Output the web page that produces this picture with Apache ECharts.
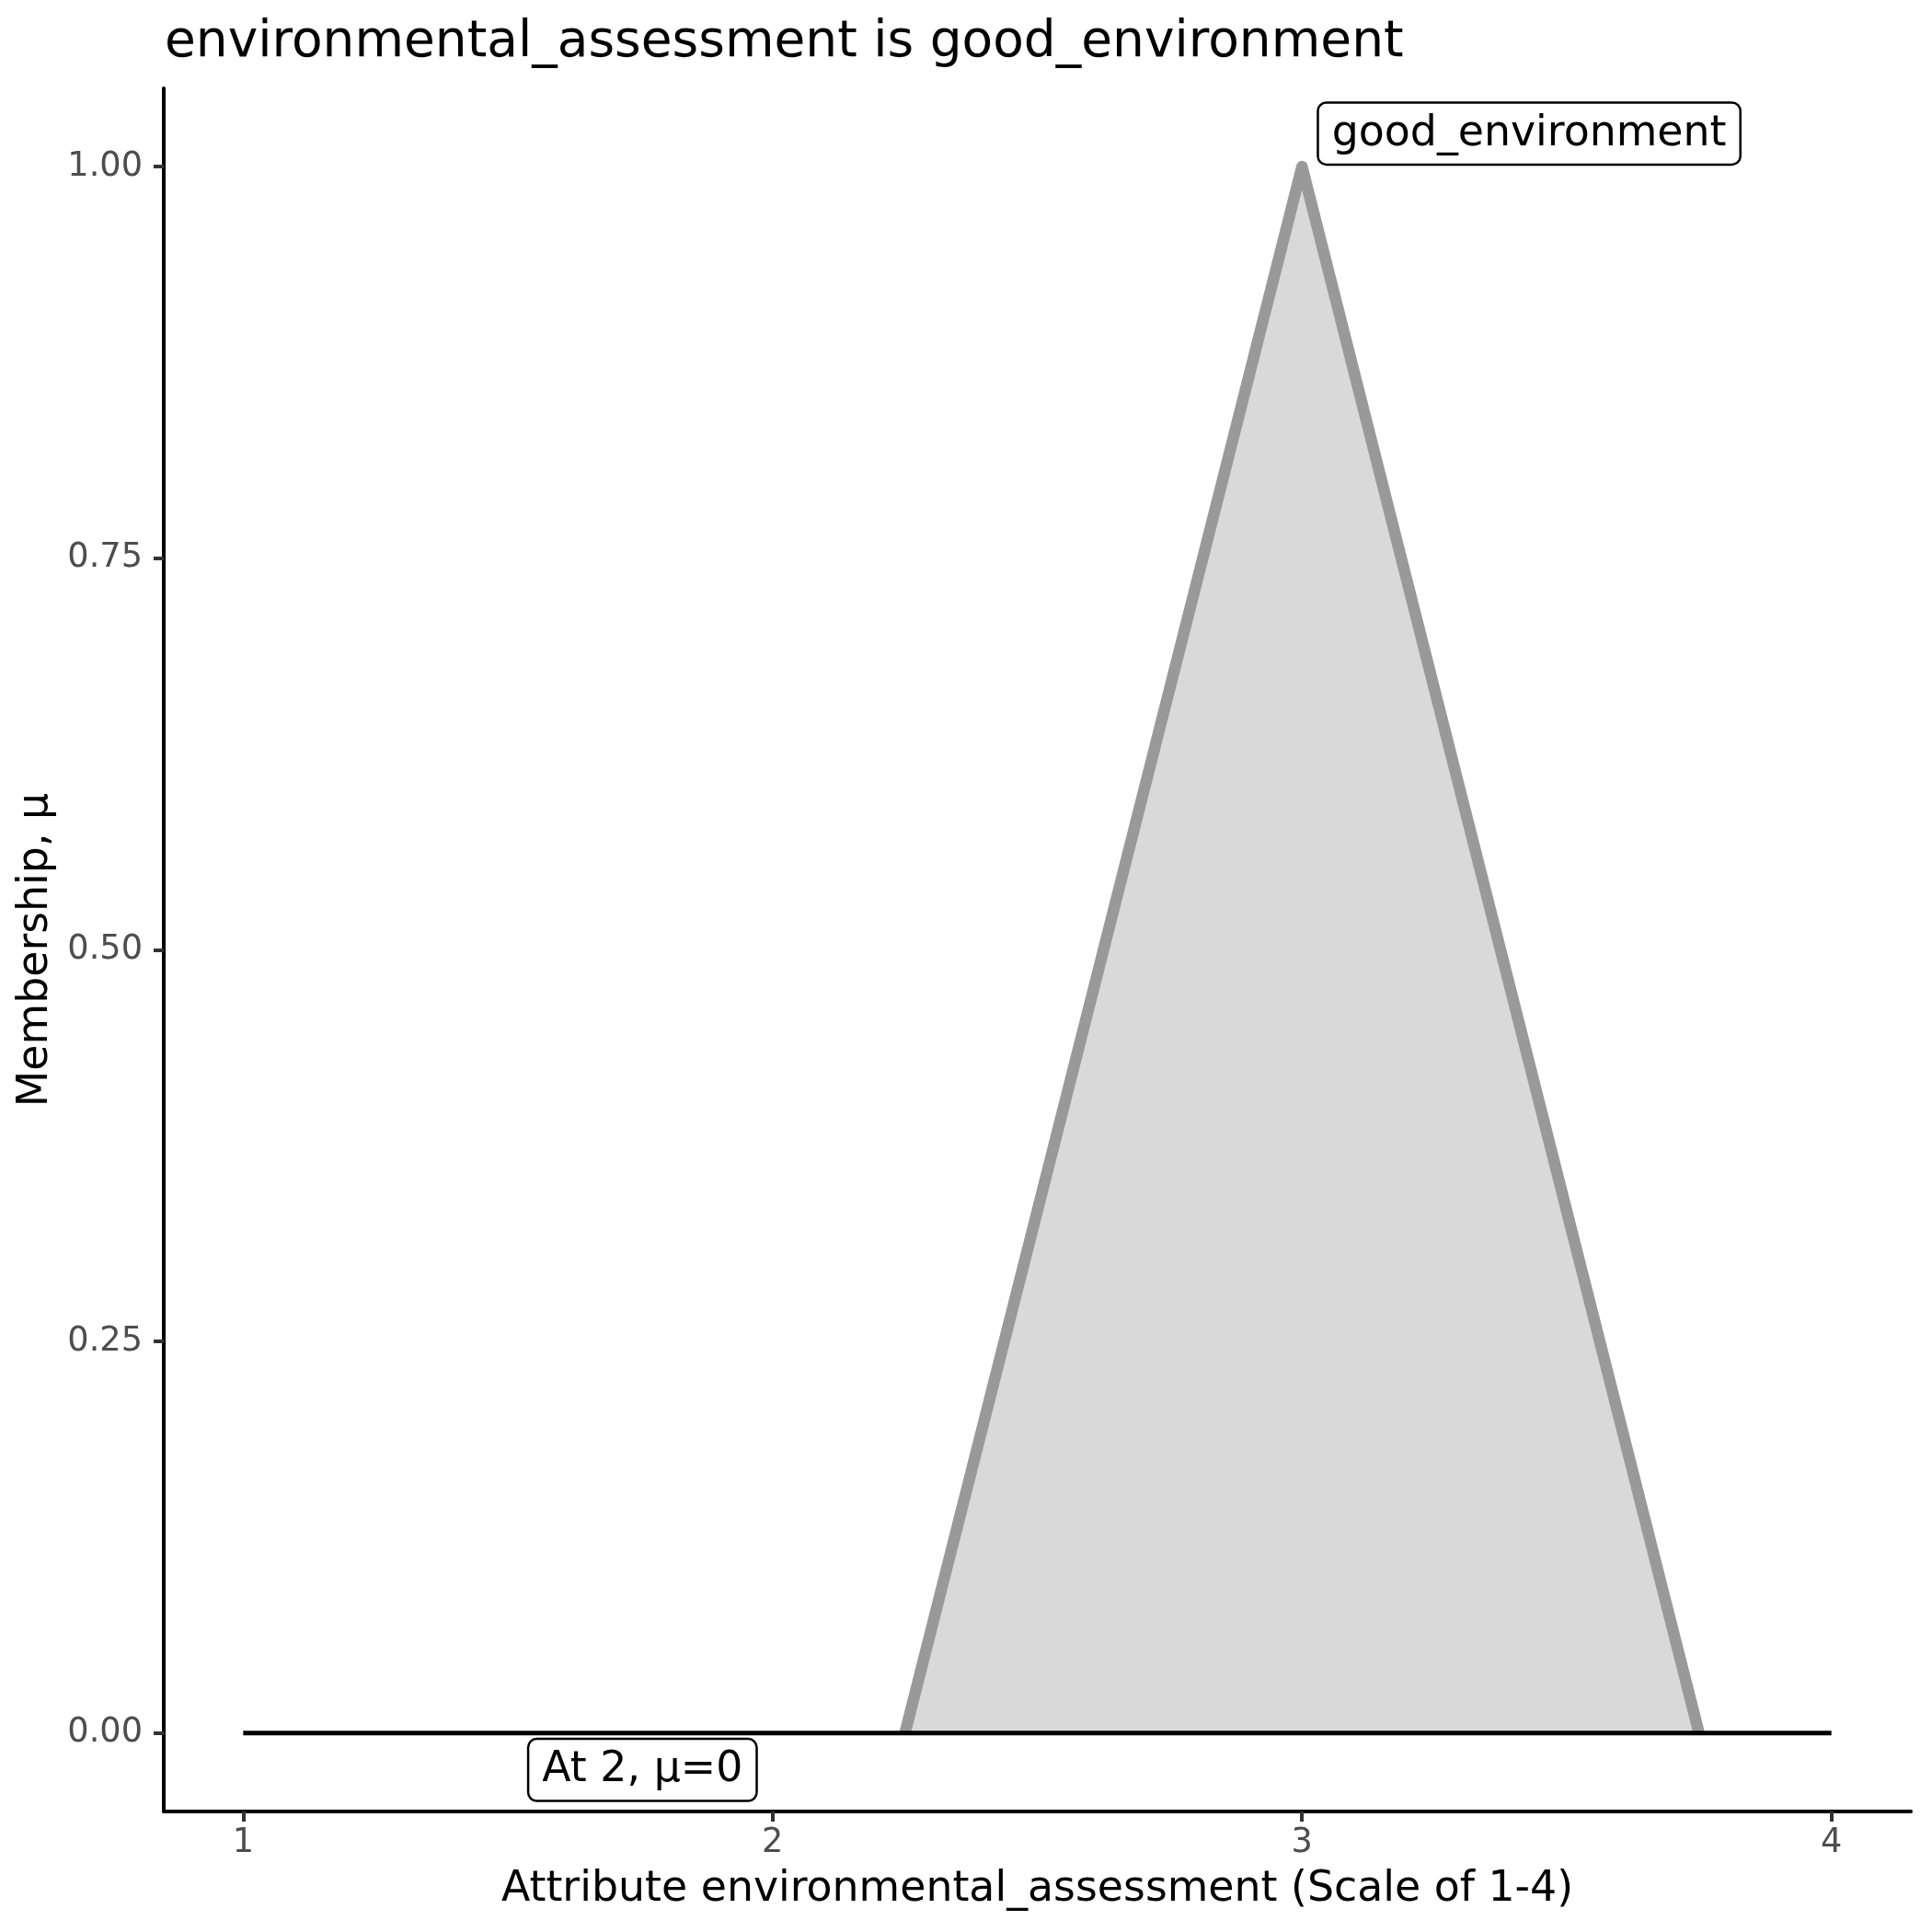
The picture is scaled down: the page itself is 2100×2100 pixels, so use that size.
<!DOCTYPE html>
<html>
<head>
<meta charset="utf-8">
<script src="https://cdn.jsdelivr.net/npm/echarts@6/dist/echarts.min.js"></script>
<style>html,body{margin:0;padding:0;background:#fff}#c{width:2100px;height:2100px}</style>
</head>
<body>
<div id="c"></div>
<script>
// ---- data ----
const titleText = 'environmental_assessment is good_environment';
const xAxisTitle = 'Attribute environmental_assessment (Scale of 1-4)';
const yAxisTitle = 'Membership, \u03bc';
const xTicks = [1, 2, 3, 4];
const yTicks = [0, 0.25, 0.5, 0.75, 1];
const setX = [2.25, 3, 3.75];
const setMu = [0, 1, 0];
const baselineX = [1, 4];
const baselineMu = [0, 0];
const labelX = [3, 2];
const labelMu = [1, 0];
const labelText = ['good_environment', 'At 2, \u03bc=0'];

const FONT = 'DejaVu Sans';
const chart = echarts.init(document.getElementById('c'), null, {renderer: 'canvas'});

const labelBox = {
  fontFamily: FONT, fontSize: 45.8, color: '#000', lineHeight: 46, opacity: 1,
  backgroundColor: '#fff', borderColor: '#000', borderWidth: 2.5, borderRadius: 8,
  padding: [10, 14, 9, 14]
};

chart.setOption({
  animation: false,
  backgroundColor: '#fff',
  title: {
    text: titleText, left: 174, top: 14,
    textStyle: {fontFamily: FONT, fontSize: 55, fontWeight: 'normal', color: '#000'}
  },
  grid: {left: 178, right: 23, top: 96, bottom: 131, containLabel: false},
  xAxis: {
    type: 'value', min: 0.85, max: 4.15,
    name: xAxisTitle, nameLocation: 'middle', nameGap: 62,
    nameTextStyle: {fontFamily: FONT, fontSize: 45.8, color: '#000'},
    axisLine: {show: true, onZero: false, lineStyle: {color: '#000', width: 4}},
    axisTick: {show: true, length: 11, customValues: xTicks, lineStyle: {color: '#333', width: 4}},
    axisLabel: {customValues: xTicks, margin: 16, fontFamily: FONT, fontSize: 36.7, color: '#4D4D4D'},
    splitLine: {show: false}
  },
  yAxis: {
    type: 'value', min: -0.05, max: 1.05,
    name: yAxisTitle, nameLocation: 'middle', nameGap: 116, nameRotate: 90,
    nameTextStyle: {fontFamily: FONT, fontSize: 45.8, color: '#000'},
    axisLine: {show: true, onZero: false, lineStyle: {color: '#000', width: 4}},
    axisTick: {show: true, length: 11, customValues: yTicks, lineStyle: {color: '#333', width: 4}},
    axisLabel: {customValues: yTicks, margin: 23, fontFamily: FONT, fontSize: 36.7, color: '#4D4D4D',
      formatter: v => v.toFixed(2)},
    splitLine: {show: false}
  },
  series: [
    {
      type: 'line', z: 2,
      data: setX.map((x, i) => [x, setMu[i]]),
      showSymbol: false, symbol: 'none',
      lineStyle: {color: '#999999', width: 12.5, cap: 'butt', join: 'round'},
      areaStyle: {color: '#D9D9D9', opacity: 1, origin: 0}
    },
    {
      type: 'line', z: 3,
      data: baselineX.map((x, i) => [x, baselineMu[i]]),
      showSymbol: false, symbol: 'none',
      lineStyle: {color: '#000', width: 5}
    },
    {
      type: 'scatter', z: 5, symbolSize: 1,
      itemStyle: {color: 'rgba(0,0,0,0)', opacity: 1},
      emphasis: {disabled: true},
      data: labelX.map((x, i) => ({
        value: [x, labelMu[i]],
        label: Object.assign({
          show: true, formatter: labelText[i],
          position: i === 0 ? [19, -3] : [-18, 8],
          align: i === 0 ? 'left' : 'right',
          verticalAlign: i === 0 ? 'bottom' : 'top'
        }, labelBox)
      }))
    }
  ]
});
</script>
</body>
</html>
